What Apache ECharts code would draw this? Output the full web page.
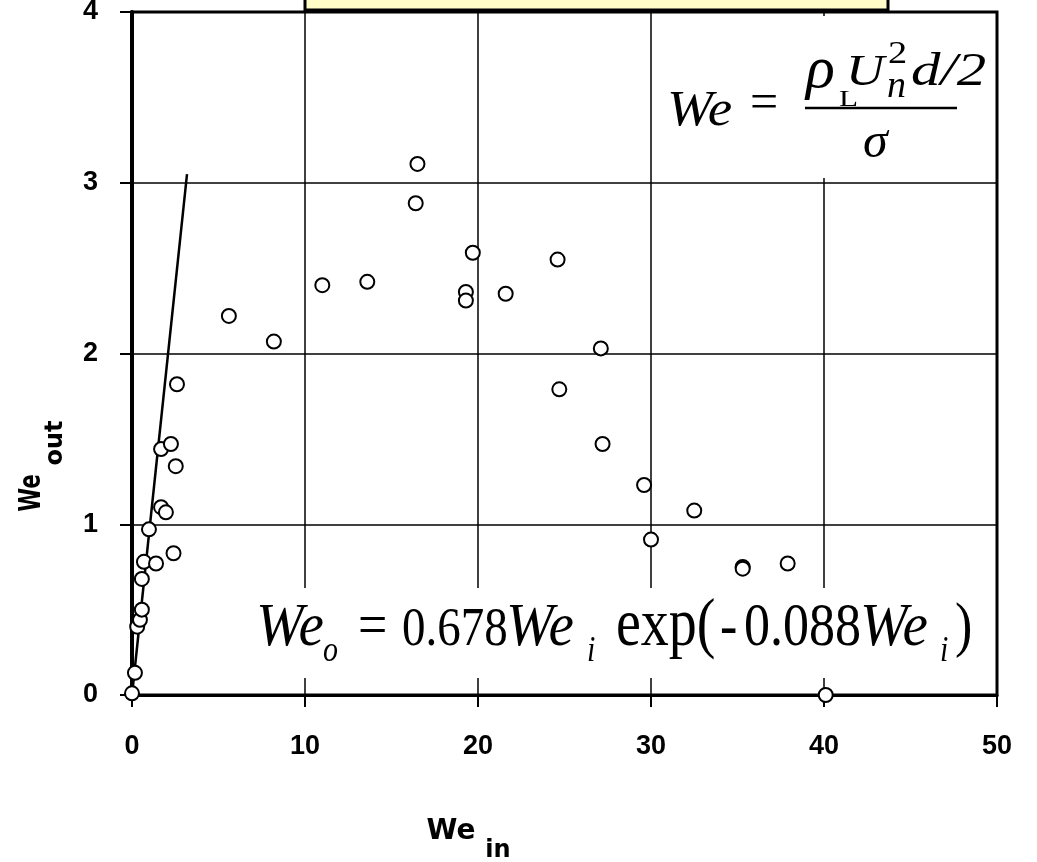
<!DOCTYPE html>
<html>
<head>
<meta charset="utf-8">
<script src="https://cdn.jsdelivr.net/npm/echarts@6.0.0/dist/echarts.min.js"></script>
<style>
html,body{margin:0;padding:0;background:#fff}
#main{width:1037px;height:862px}
</style>
</head>
<body>
<div id="main"></div>
<script>
// measured points, We_in / We_out
var weIn = [0.0, 0.17, 0.3, 0.46, 0.57, 0.57, 0.69, 1.39, 0.98, 2.4, 1.68, 1.96, 1.68, 2.25, 2.53, 2.6,
  5.6, 8.2, 11.0, 13.6, 16.5, 16.4, 19.7, 19.3, 19.3, 21.6, 24.6, 27.1, 24.7, 27.2, 29.6, 32.5, 30.0,
  35.3, 35.3, 37.9, 40.1]
var weOut = [0.01, 0.13, 0.40, 0.44, 0.50, 0.68, 0.78, 0.77, 0.97, 0.83, 1.10, 1.07, 1.44, 1.47, 1.34, 1.82,
  2.22, 2.07, 2.40, 2.42, 3.11, 2.88, 2.59, 2.36, 2.31, 2.35, 2.55, 2.03, 1.79, 1.47, 1.23, 1.08, 0.91,
  0.75, 0.74, 0.77, 0.0]
// straight line near the origin
var fitIn = [0, 3.18]
var fitOut = [0, 3.05]

var chart = echarts.init(document.getElementById('main'))

function pairs(a, b){
  var out = []
  for (var i = 0; i < a.length; i++) out.push([a[i], b[i]])
  return out
}

// one piece of formula text, y is the baseline
function seg(text, x, base, size, italic, sx, sy){
  return {
    type: 'text', x: x, y: base, scaleX: sx || 1, scaleY: sy || 1, z: 110, silent: true,
    style: {
      text: text, x: 0, y: -0.33 * size,
      fontSize: size, fontFamily: '"Liberation Serif", serif',
      fontStyle: italic ? 'italic' : 'normal',
      fill: '#000', textAlign: 'left', textVerticalAlign: 'middle'
    }
  }
}

function boldText(text, x, y, size, rot, sx){
  return {
    type: 'text', x: x, y: y, rotation: rot || 0, scaleX: sx || 1, z: 110, silent: true,
    style: {
      text: text, fontSize: size, fontWeight: 'bold', fontFamily: '"DejaVu Sans", sans-serif',
      fill: '#000', textAlign: 'center', textVerticalAlign: 'middle'
    }
  }
}

var by = 1.19
var graphics = [
  // cut-off yellow box at the top
  {type: 'rect', z: 100, silent: true, shape: {x: 305, y: -12, width: 583, height: 22},
    style: {fill: '#fffcc8', stroke: '#000', lineWidth: 3}},
  // white backing behind the formulas
  {type: 'rect', z: 100, silent: true, shape: {x: 658, y: 16, width: 335, height: 162}, style: {fill: '#fff'}},
  {type: 'rect', z: 100, silent: true, shape: {x: 240, y: 588, width: 753, height: 90}, style: {fill: '#fff'}},

  // We = rho_L U_n^2 d/2 / sigma
  seg('We', 667, 128, 50, true, 1.1),
  seg('=', 750, 121, 50, false),
  seg('\u03c1', 806, 91, 60, true),
  seg('L', 839, 108, 24, false, 1.3),
  seg('U', 846, 88, 44, true, 1.2),
  seg('2', 888, 65, 32, false, 1.2),
  seg('n', 887, 100, 38, true),
  seg('d/2', 911, 88, 46, true, 1.28),
  {type: 'line', z: 110, silent: true, shape: {x1: 805, y1: 108, x2: 957, y2: 108},
    style: {stroke: '#000', lineWidth: 2.5}},
  seg('\u03c3', 863, 160, 50, true),

  // We_o = 0.678 We_i exp(- 0.088 We_i)
  seg('We', 256, 649, 52, true, 1.1, by),
  seg('o', 323, 663, 30, true, 1, by),
  seg('=', 358, 649, 52, false, 1, by),
  seg('0.678', 402, 649, 47, false, 1, by),
  seg('We', 506, 649, 52, true, 1.1, by),
  seg('i', 587, 663, 30, true, 1, by),
  seg('exp(', 616, 649, 56, false, 1, by),
  seg('-', 720, 649, 52, false, 1, by),
  seg('0.088', 744, 649, 52, false, 1, by),
  seg('We', 860, 649, 52, true, 1.1, by),
  seg('i', 940, 663, 30, true, 1, by),
  seg(')', 955, 649, 52, false, 1, by),

  // axis names
  boldText('We', 32, 493, 30, Math.PI / 2, 0.72),
  boldText('out', 56, 443, 24, Math.PI / 2),
  boldText('We', 451, 832, 28),
  boldText('in', 498, 851, 24)
]

var labelFont = {color: '#000', fontFamily: '"Liberation Sans", Arial, sans-serif', fontWeight: 'bold', fontSize: 27}

var option = {
  backgroundColor: '#fff',
  animation: false,
  grid: {
    left: 132, right: 40, top: 12, bottom: 167,
    show: true, borderColor: '#000', borderWidth: 3,
    containLabel: false, outerBoundsMode: 'none'
  },
  xAxis: {
    type: 'value', min: 0, max: 50, interval: 10,
    axisLine: {show: true, onZero: false, lineStyle: {color: '#000', width: 3}},
    axisTick: {show: true, length: 12, lineStyle: {color: '#000', width: 2}},
    splitLine: {show: true, lineStyle: {color: '#000', width: 1.5}},
    axisLabel: Object.assign({margin: 38}, labelFont)
  },
  yAxis: {
    type: 'value', min: 0, max: 4, interval: 1,
    axisLine: {show: true, onZero: false, lineStyle: {color: '#000', width: 4}},
    axisTick: {show: true, length: 12, lineStyle: {color: '#000', width: 2}},
    splitLine: {show: true, lineStyle: {color: '#000', width: 1.5}},
    axisLabel: Object.assign({margin: 34}, labelFont)
  },
  series: [
    {
      type: 'line',
      data: pairs(fitIn, fitOut),
      showSymbol: false,
      lineStyle: {color: '#000', width: 2.5},
      z: 3
    },
    {
      type: 'scatter',
      data: pairs(weIn, weOut),
      symbol: 'circle',
      symbolSize: 14,
      itemStyle: {color: '#fff', borderColor: '#000', borderWidth: 2, opacity: 1},
      z: 4
    }
  ],
  graphic: {elements: graphics}
}
chart.setOption(option)
</script>
</body>
</html>
